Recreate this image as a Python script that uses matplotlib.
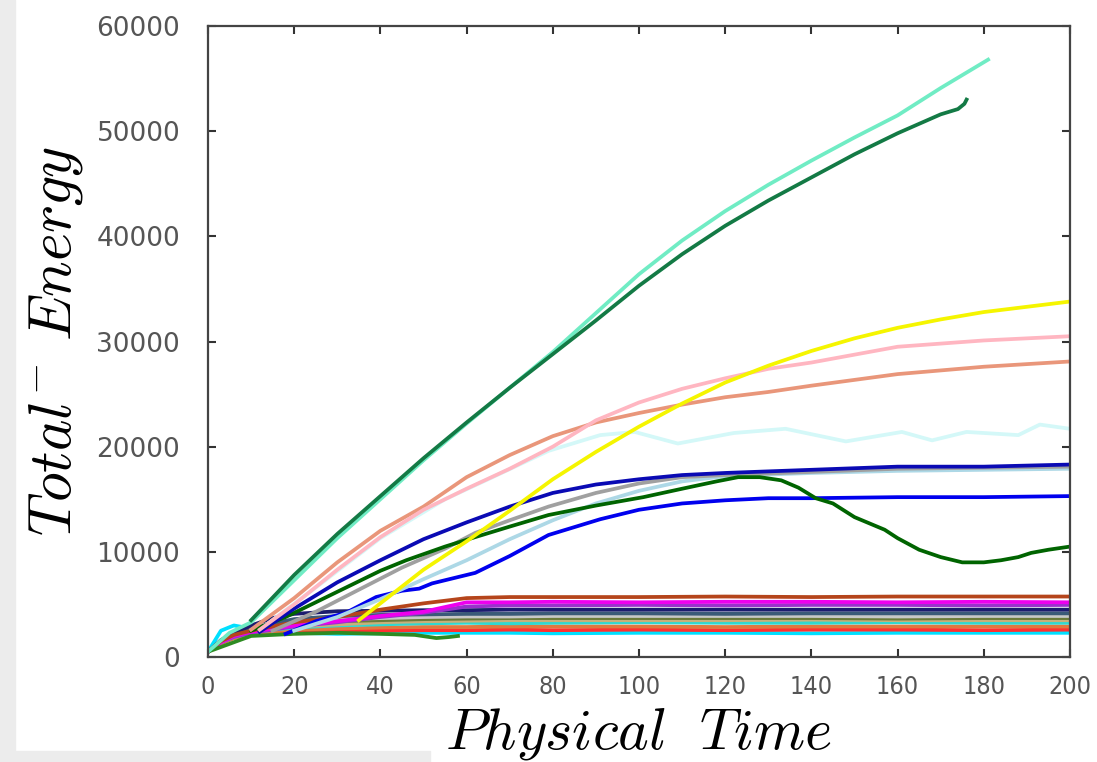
import matplotlib
matplotlib.use('Agg')
import matplotlib.pyplot as plt
from matplotlib.patches import Rectangle

plt.rcParams['mathtext.fontset'] = 'cm'

# --- upper curves ---------------------------------------------------------
t_aqua = [0, 5, 10, 20, 30, 40, 50, 60, 70, 80, 90, 100, 110, 120, 130, 140, 150, 160, 170, 181]
e_aqua = [500, 2300, 3300, 7300, 11300, 15000, 18700, 22200, 25600, 29000, 32700, 36400,
          39600, 42400, 44900, 47200, 49400, 51500, 54100, 56800]

t_dkgreen = [10, 20, 30, 40, 50, 60, 70, 80, 90, 100, 110, 120, 130, 140, 150, 160, 170, 174, 175.5, 176]
e_dkgreen = [3500, 7800, 11700, 15300, 18900, 22300, 25600, 28800, 32000, 35300, 38300, 41000,
             43400, 45600, 47800, 49800, 51600, 52100, 52600, 53000]

t_yellow = [35, 40, 50, 60, 70, 80, 90, 100, 110, 120, 130, 140, 150, 160, 170, 180, 190, 200]
e_yellow = [3500, 5100, 8300, 11000, 13900, 16900, 19500, 21900, 24100, 26100, 27700, 29100,
            30300, 31300, 32100, 32800, 33300, 33800]

t_pink = [12, 20, 30, 40, 50, 60, 70, 80, 90, 100, 110, 120, 130, 140, 160, 180, 200]
e_pink = [2600, 5000, 8300, 11400, 14000, 16000, 17900, 20000, 22500, 24200, 25500, 26500,
          27400, 28000, 29500, 30100, 30500]

t_salmon = [10, 20, 30, 40, 50, 60, 70, 80, 90, 100, 110, 120, 130, 140, 160, 180, 200]
e_salmon = [2600, 5600, 9000, 12000, 14300, 17100, 19200, 21000, 22300, 23200, 24000, 24700,
            25200, 25800, 26900, 27600, 28100]

t_ltcyan = [12, 25, 40, 55, 65, 79, 91, 99, 109, 122, 134, 148, 161, 168, 176, 188, 193, 200]
e_ltcyan = [2600, 6600, 11300, 15000, 16900, 19600, 21100, 21400, 20300, 21300, 21700, 20500,
            21400, 20600, 21400, 21100, 22100, 21700]

t_blue1 = [12, 20, 30, 40, 50, 60, 70, 80, 90, 100, 110, 120, 140, 160, 180, 200]
e_blue1 = [2400, 4600, 7100, 9200, 11200, 12800, 14300, 15600, 16400, 16900, 17300, 17500,
           17800, 18100, 18100, 18300]

t_gray = [15, 25, 35, 45, 55, 62, 70, 79, 90, 100, 110, 120, 140, 160, 180, 200]
e_gray = [2500, 4300, 6400, 8500, 10300, 11800, 13000, 14300, 15600, 16500, 17100, 17300,
          17600, 17900, 18000, 18100]

t_ltblue = [20, 30, 40, 50, 60, 70, 80, 90, 100, 110, 120, 140, 160, 180, 200]
e_ltblue = [2500, 3800, 5500, 7400, 9200, 11200, 13000, 14600, 15800, 16700, 17200, 17500,
            17700, 17800, 17900]

t_green2 = [10, 18, 25, 31, 40, 46, 55, 62, 70, 79, 90, 101, 110, 118, 123, 128, 133, 137, 141,
            145, 150, 157, 160, 165, 170, 175, 180, 184, 188, 191, 195, 200]
e_green2 = [2500, 3800, 5200, 6400, 8200, 9200, 10500, 11400, 12400, 13500, 14400, 15200, 16000,
            16700, 17100, 17100, 16800, 16100, 15100, 14600, 13300, 12100, 11300, 10200, 9500,
            9000, 9000, 9200, 9500, 9900, 10200, 10500]

t_blue2 = [18, 25, 32, 39, 45, 49, 52, 56, 62, 70, 79, 91, 100, 110, 120, 130, 140, 160, 180, 200]
e_blue2 = [2200, 3400, 4200, 5700, 6300, 6500, 7000, 7400, 8000, 9600, 11600, 13100, 14000,
           14600, 14900, 15100, 15100, 15200, 15200, 15300]

# --- flat cluster near the bottom ----------------------------------------
t_low = [0, 3, 6, 10, 15, 20, 30, 40, 50, 60, 70, 80, 100, 120, 140, 160, 180, 200]
e_sienna = [500, 1500, 2100, 2500, 2900, 3300, 3800, 4500, 5100, 5600, 5700, 5700, 5700, 5750, 5700, 5750, 5750, 5750]
e_magenta = [500, 1400, 2000, 2400, 2700, 3000, 3400, 3900, 4300, 5200, 5200, 5250, 5200, 5250, 5250, 5200, 5250, 5200]
e_violet = [500, 1400, 1900, 2300, 2600, 2900, 3300, 3800, 4200, 4800, 4900, 4900, 4950, 4900, 4950, 4950, 4900, 4950]
e_navy = [500, 1600, 2300, 3000, 3700, 4100, 4350, 4400, 4450, 4450, 4500, 4500, 4500, 4500, 4500, 4500, 4500, 4500]
e_slate = [500, 1500, 2200, 2700, 3200, 3600, 3900, 4000, 4050, 4100, 4100, 4150, 4150, 4100, 4150, 4150, 4150, 4150]
e_silver = [500, 1500, 2100, 2600, 3000, 3300, 3600, 3700, 3800, 3850, 3850, 3900, 3900, 3900, 3900, 3850, 3900, 3900]
e_olive = [500, 1500, 2100, 2500, 2900, 3200, 3400, 3500, 3600, 3650, 3700, 3700, 3700, 3700, 3700, 3650, 3700, 3700]
e_tan = [500, 1400, 2000, 2400, 2700, 2900, 3100, 3300, 3400, 3450, 3500, 3500, 3500, 3500, 3550, 3500, 3500, 3500]
e_turq = [500, 1400, 1900, 2300, 2600, 2800, 3000, 3100, 3200, 3250, 3200, 3250, 3300, 3250, 3250, 3300, 3250, 3250]
e_peru = [500, 1300, 1800, 2200, 2400, 2600, 2700, 2800, 2850, 2850, 2900, 2900, 2900, 2850, 2900, 2900, 2900, 2900]
e_red = [500, 1300, 1800, 2100, 2300, 2400, 2500, 2500, 2550, 2550, 2600, 2550, 2600, 2550, 2600, 2600, 2550, 2600]
e_cyan = [500, 2500, 3000, 2700, 2500, 2300, 2200, 2250, 2300, 2300, 2300, 2250, 2300, 2300, 2250, 2300, 2300, 2300]

t_fgreen = [0, 10, 20, 30, 40, 48, 53, 56, 58]
e_fgreen = [500, 2000, 2200, 2300, 2200, 2100, 1800, 1900, 2000]

x_ticks = [0, 20, 40, 60, 80, 100, 120, 140, 160, 180, 200]
y_ticks = [0, 10000, 20000, 30000, 40000, 50000, 60000]

fig = plt.figure(figsize=(10.97, 7.62), dpi=100)
fig.patches.append(Rectangle((0, 0), 15 / 1097, 1, transform=fig.transFigure,
                             color='#ececec', zorder=-5))
fig.patches.append(Rectangle((0, 0), 430 / 1097, 11 / 762, transform=fig.transFigure,
                             color='#ececec', zorder=-5))
ax = fig.add_axes([208 / 1097, 1 - 657 / 762, 862 / 1097, 631 / 762])

lw = 2.7
low = [
    (e_cyan, '#00e0ff'), (e_red, '#ff3030'), (e_peru, '#e07840'), (e_turq, '#30d8d0'),
    (e_tan, '#c8b07a'), (e_olive, '#6b7b3a'), (e_silver, '#c8c8c8'), (e_slate, '#3a5a78'),
    (e_navy, '#1c1c6e'), (e_violet, '#9932cc'), (e_magenta, '#ee00ee'), (e_sienna, '#b5451b'),
]
for e, c in low:
    ax.plot(t_low, e, color=c, lw=lw)
ax.plot(t_fgreen, e_fgreen, color='#2e8b22', lw=lw)

ax.plot(t_ltcyan, e_ltcyan, color='#d4f8f8', lw=lw)
ax.plot(t_blue2, e_blue2, color='#0000ee', lw=lw)
ax.plot(t_ltblue, e_ltblue, color='#add8e6', lw=lw)
ax.plot(t_gray, e_gray, color='#a0a0a0', lw=lw)
ax.plot(t_green2, e_green2, color='#006400', lw=lw)
ax.plot(t_blue1, e_blue1, color='#0a0ab4', lw=lw)
ax.plot(t_salmon, e_salmon, color='#e9967a', lw=lw)
ax.plot(t_pink, e_pink, color='#ffb6c1', lw=lw)
ax.plot(t_yellow, e_yellow, color='#f5f500', lw=lw)
ax.plot(t_aqua, e_aqua, color='#70ecc4', lw=lw)
ax.plot(t_dkgreen, e_dkgreen, color='#137a45', lw=lw)

ax.set_xlim(0, 200)
ax.set_ylim(0, 60000)
ax.set_xticks(x_ticks)
ax.set_yticks(y_ticks)
ax.set_xticklabels([str(v) for v in x_ticks], family='DejaVu Sans', stretch='condensed',
                   fontsize=18, color='#555555')
ax.set_yticklabels([str(v) for v in y_ticks], fontsize=19, color='#555555')
ax.tick_params(direction='in', length=6, width=1.5, color='#333333',
               top=True, right=True)
ax.tick_params(axis='x', pad=13)
ax.tick_params(axis='y', pad=20)
for s in ax.spines.values():
    s.set_color('#444444')
    s.set_linewidth(1.6)

ax.set_xlabel(r'$Physical\ \ Time$', fontsize=42, labelpad=4)
ax.set_ylabel(r'$Total^{-}\ Energy$', fontsize=43, labelpad=8)

fig.savefig('out.png', dpi=100)
